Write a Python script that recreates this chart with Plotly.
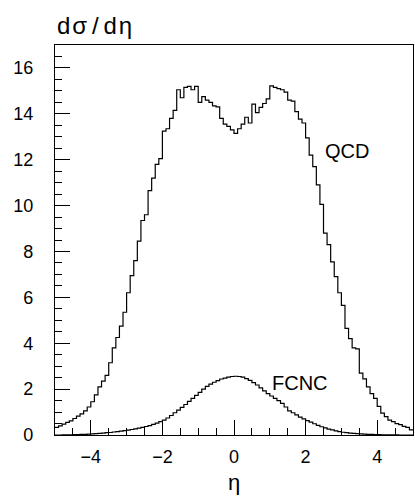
import plotly.graph_objects as go

# bin left edges: -5.0 ... 4.9 (width 0.1), last edge 5.0
bin_edges = [round(-5.0 + 0.1 * i, 1) for i in range(101)]

qcd = [
    0.33, 0.40, 0.47, 0.55, 0.62, 0.72, 0.82, 0.92, 1.05, 1.22,
    1.45, 1.75, 2.10, 2.35, 2.60, 3.15, 3.80, 4.25, 4.75, 5.35,
    6.20, 6.95, 7.60, 8.45, 9.35, 9.60, 10.65, 11.20, 11.80, 12.05,
    13.25, 13.35, 13.80, 14.15, 15.05, 14.70, 15.15, 15.20, 15.05, 15.20,
    14.50, 14.75, 14.60, 14.50, 14.35, 14.30, 13.80, 13.55, 13.45, 13.30,
    13.15, 13.35, 13.55, 13.85, 13.60, 14.42, 14.05, 14.28, 14.45, 14.65,
    15.22, 15.15, 15.10, 15.05, 14.95, 14.60, 14.55, 14.10, 13.77, 13.60,
    12.95, 12.20, 11.70, 10.90, 10.05, 8.80, 8.30, 7.55, 6.90, 6.20,
    5.65, 4.65, 4.20, 3.80, 3.75, 2.70, 2.45, 2.10, 1.80, 1.60,
    1.25, 0.95, 0.80, 0.65, 0.58, 0.50, 0.45, 0.38, 0.33, 0.22,
]

fcnc = [
    0.00, 0.00, 0.01, 0.01, 0.01, 0.02, 0.02, 0.03, 0.03, 0.04,
    0.05, 0.06, 0.07, 0.08, 0.10, 0.11, 0.13, 0.15, 0.17, 0.19,
    0.21, 0.24, 0.27, 0.30, 0.33, 0.37, 0.41, 0.46, 0.52, 0.58,
    0.65, 0.74, 0.85, 0.97, 1.08, 1.20, 1.33, 1.47, 1.60, 1.73,
    1.86, 2.00, 2.12, 2.22, 2.30, 2.37, 2.44, 2.48, 2.52, 2.55,
    2.56, 2.55, 2.52, 2.46, 2.38, 2.28, 2.18, 2.05, 1.92, 1.80,
    1.70, 1.60, 1.50, 1.38, 1.22, 1.05, 0.97, 0.88, 0.78, 0.70,
    0.63, 0.56, 0.49, 0.42, 0.36, 0.31, 0.26, 0.22, 0.18, 0.15,
    0.12, 0.10, 0.08, 0.07, 0.06, 0.05, 0.04, 0.03, 0.03, 0.02,
    0.02, 0.01, 0.01, 0.01, 0.01, 0.01, 0.00, 0.00, 0.00, 0.00,
]

x_ticks = [-4, -2, 0, 2, 4]
y_ticks = [0, 2, 4, 6, 8, 10, 12, 14, 16]

FONT = "Liberation Sans, Arial, sans-serif"

fig = go.Figure()
for vals, name in [(qcd, "QCD"), (fcnc, "FCNC")]:
    fig.add_trace(go.Scatter(
        x=bin_edges, y=vals + [vals[-1]], mode="lines", line_shape="hv",
        line=dict(color="black", width=1.2), name=name, showlegend=False,
        hoverinfo="skip",
    ))

axis_common = dict(
    showline=True, linecolor="black", linewidth=1.2, mirror=True,
    showgrid=False, zeroline=False, ticks="inside", ticklen=15,
    tickwidth=1, tickcolor="black",
    tickfont=dict(family=FONT, size=18, color="black"),
    minor=dict(ticks="inside", ticklen=7, tickwidth=1, tickcolor="black",
               dtick=0.5, showgrid=False),
)

fig.update_layout(
    width=415, height=498,
    margin=dict(l=55, r=2, t=45, b=63),
    paper_bgcolor="white", plot_bgcolor="white",
    xaxis=dict(range=[-5, 5], tickvals=x_ticks, ticklabelstandoff=5,
               **axis_common),
    yaxis=dict(range=[0, 17], tickvals=y_ticks, ticklabelstandoff=17,
               **axis_common),
    annotations=[
        dict(text="d\u200aσ\u2009/\u2009d\u200aη", xref="paper", yref="paper",
             x=0, y=1, xanchor="left", yanchor="middle", yshift=20,
             showarrow=False, font=dict(family=FONT, size=24, color="black")),
        dict(text="η", xref="x", yref="paper", x=0, y=0, yanchor="middle",
             yshift=-47, showarrow=False,
             font=dict(family=FONT, size=22, color="black")),
        dict(text="QCD", xref="x", yref="y", x=3.17, y=12.39,
             showarrow=False, font=dict(family=FONT, size=20, color="black")),
        dict(text="FCNC", xref="x", yref="y", x=1.85, y=2.26,
             showarrow=False, font=dict(family=FONT, size=20, color="black")),
    ],
)

fig.write_html("out.html")
